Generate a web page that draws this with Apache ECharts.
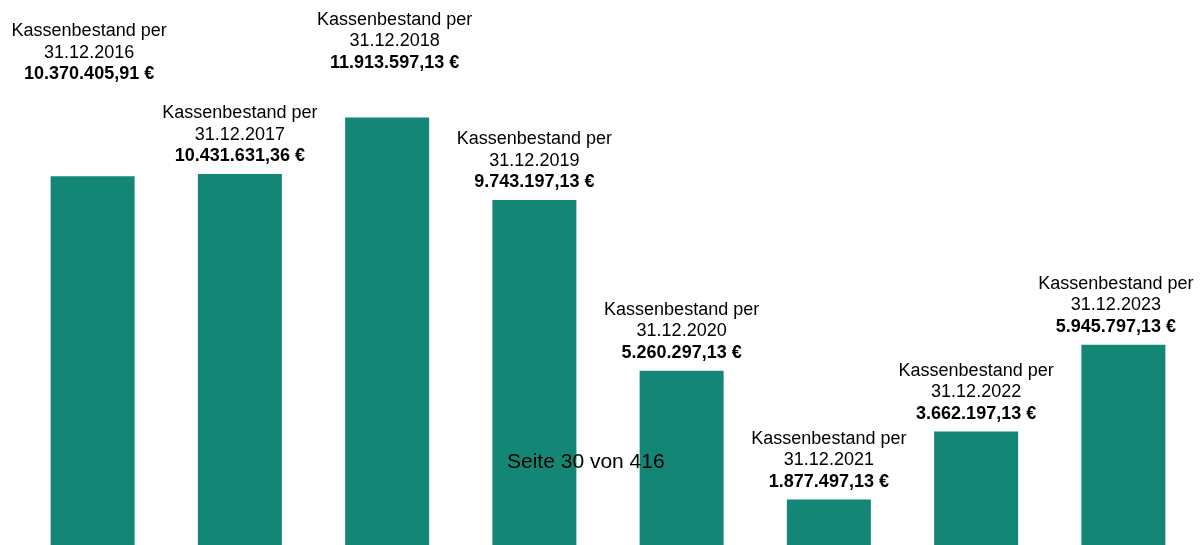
<!DOCTYPE html>
<html>
<head>
<meta charset="utf-8">
<script src="https://cdn.jsdelivr.net/npm/echarts@6/dist/echarts.min.js"></script>
<style>
html,body{margin:0;padding:0;background:#fff;overflow:hidden;width:1204px;height:545px;}
#c{width:1204px;height:571px;}
</style>
</head>
<body>
<div id="c"></div>
<script>
const categories = ['31.12.2016','31.12.2017','31.12.2018','31.12.2019','31.12.2020','31.12.2021','31.12.2022','31.12.2023'];
const values = [10370405.91, 10431631.36, 11913597.13, 9743197.13, 5260297.13, 1877497.13, 3662197.13, 5945797.13];
const labelPrefix = 'Kassenbestand per';
const footerText = 'Seite 30 von 416';

const labelOffsets = {0: [-3.5, -84], 2: [7.5, -37], 7: [-7.5, 0]};

function fmtDE(v) {
  const parts = v.toFixed(2).split('.');
  const intPart = parts[0].replace(/\B(?=(\d{3})+(?!\d))/g, '.');
  return intPart + ',' + parts[1];
}

const seriesData = values.map((v, i) => {
  const item = { value: v };
  if (labelOffsets[i]) item.label = { offset: labelOffsets[i] };
  return item;
});

const chart = echarts.init(document.getElementById('c'));
chart.setOption({
  animation: false,
  grid: { left: 19, right: 7, top: 0, bottom: 0 },
  xAxis: { type: 'category', data: categories, show: false },
  yAxis: { type: 'value', min: 0, max: 15000000, show: false },
  series: [{
    type: 'bar',
    data: seriesData,
    barWidth: 84,
    itemStyle: { color: '#148676' },
    label: {
      show: true,
      position: 'top',
      distance: 7,
      formatter: p => '{a|' + labelPrefix + '}\n{a|' + categories[p.dataIndex] + '}\n{b|' + fmtDE(p.value) + ' €}',
      rich: {
        a: { fontFamily: 'Liberation Sans, Arial, sans-serif', fontSize: 18, lineHeight: 21.5, color: '#000', align: 'center' },
        b: { fontFamily: 'Liberation Sans, Arial, sans-serif', fontSize: 18, lineHeight: 21.5, fontWeight: 'bold', color: '#000', align: 'center' }
      }
    }
  }],
  graphic: [{
    type: 'text',
    left: 507,
    top: 452,
    z: 100,
    style: { text: footerText, fontFamily: 'Liberation Sans, Arial, sans-serif', fontSize: 21, fill: '#000' }
  }]
});
</script>
</body>
</html>
